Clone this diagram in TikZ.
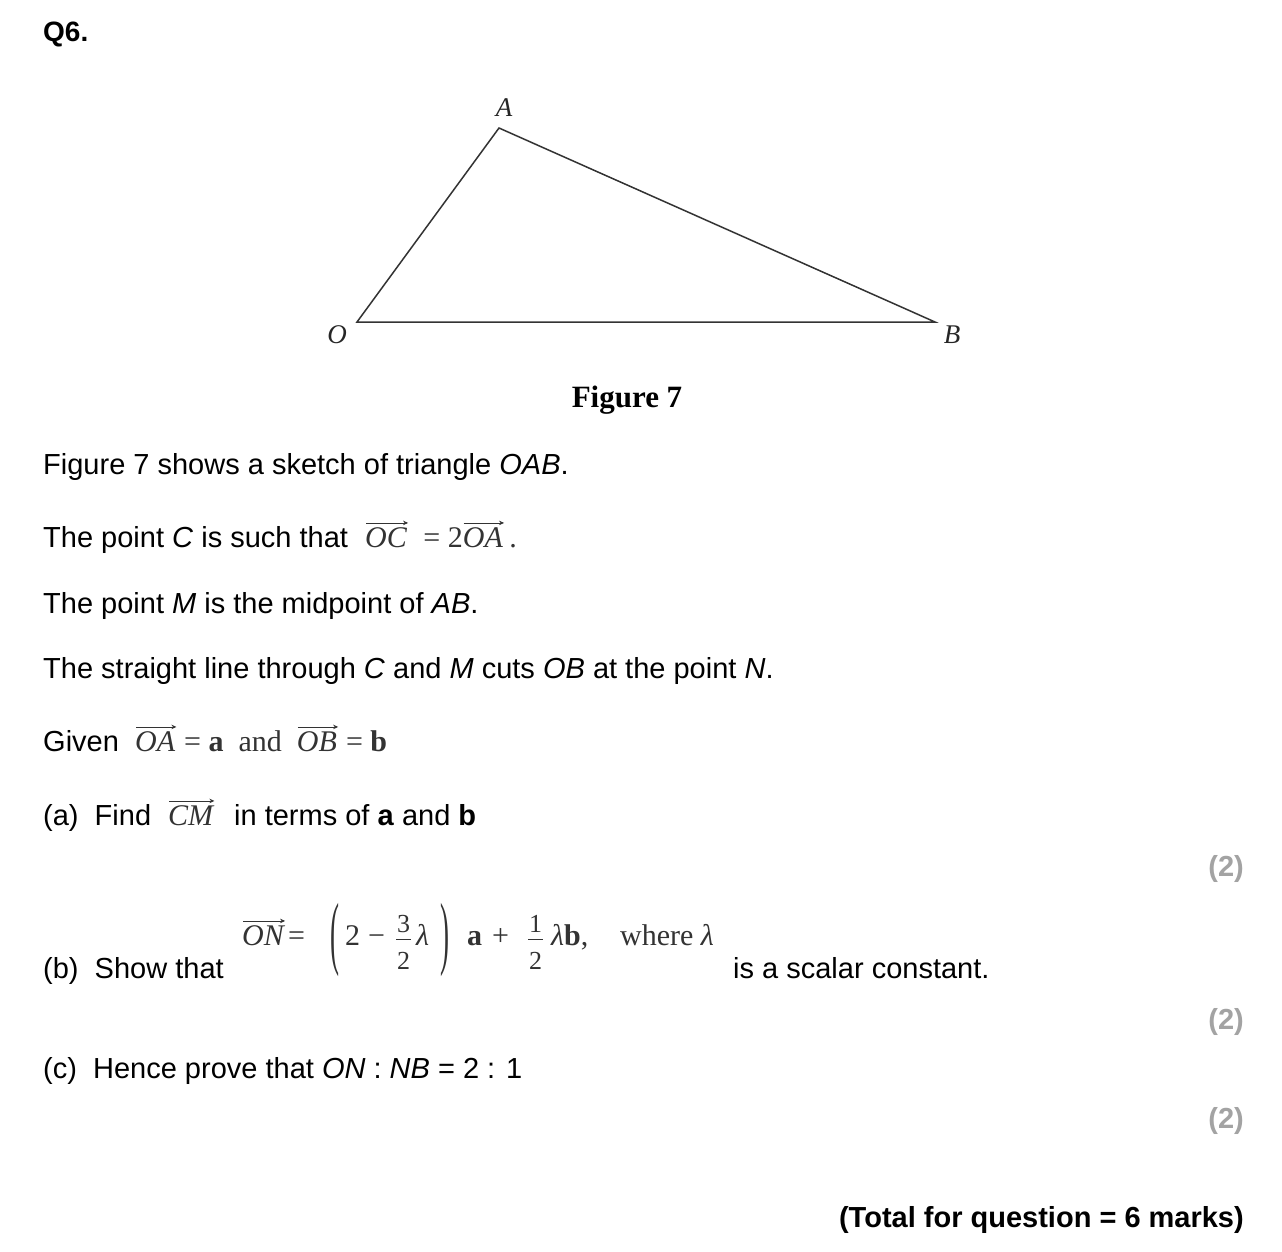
\documentclass[tikz,border=0pt]{standalone}
\usepackage{fontspec}
\setmainfont{Liberation Sans}
\newfontfamily\tms{Liberation Serif}
\usetikzlibrary{arrows.meta}
\newcommand\vx[1]{\tikz[baseline=(vv.base)]{\node[inner sep=0pt,anchor=base west] (vv) at (0,0) {\tms\itshape #1};
  \draw[-{Stealth[length=5pt,width=4.5pt]},line width=0.7pt] ([yshift=4pt,xshift=1pt]vv.north west) -- ([yshift=4pt,xshift=1pt]vv.north east);}}
\definecolor{mathgray}{gray}{0.2}
\definecolor{markgray}{gray}{0.64}
\begin{document}
\begin{tikzpicture}[x=1pt,y=-1pt,
  txt/.style={anchor=base west,inner sep=0pt,font=\fontsize{29}{35}\selectfont},
  fm/.style={anchor=base west,inner sep=0pt,font=\fontsize{30}{36}\selectfont\tms,text=mathgray},
  num/.style={anchor=base,inner sep=0pt,font=\fontsize{26}{30}\selectfont\tms,text=mathgray},
  paren/.style={inner sep=0pt,font=\fontsize{30}{36}\selectfont\tms,text=mathgray},
  markstyle/.style={anchor=base east,inner sep=0pt,font=\fontsize{29}{35}\selectfont\bfseries,text=markgray},
  lbl/.style={inner sep=0pt,font=\fontsize{27}{30}\selectfont\tms\itshape,text=black!85},
  side/.style={line width=1.5pt,draw=black!80,line join=miter},
  bar/.style={line width=1pt,draw=mathgray}]
\useasboundingbox[fill=white] (0,0) rectangle (1282,1252);

% header
\node[txt,font=\fontsize{28}{34}\selectfont\bfseries] (q) at (43,42) {Q6.};

% triangle
\coordinate (O) at (357,322);
\coordinate (A) at (499,128);
\coordinate (B) at (935,322);
\draw[side] (O) -- (A) -- (B) -- cycle;
\node[lbl] (la) at (504,108) {A};
\node[lbl] (lo) at (337,335) {O};
\node[lbl] (lb) at (952,335) {B};
\node[anchor=base,inner sep=0pt,font=\fontsize{31}{36}\selectfont\tms\bfseries] (fig) at (627,407) {Figure 7};

% text
\node[txt] (l1) at (43,474) {Figure 7 shows a sketch of triangle \textit{OAB}.};
\node[txt] (l2) at (43,547) {The point \textit{C} is such that};
\node[fm] (l2m) at (365,547) {\vx{OC}\ \ = 2\vx{OA}\,.};
\node[txt] (l3) at (43,613) {The point \textit{M} is the midpoint of \textit{AB}.};
\node[txt] (l4) at (43,678) {The straight line through \textit{C} and \textit{M} cuts \textit{OB} at the point \textit{N}.};
\node[txt] (l5) at (43,751) {Given};
\node[fm] (l5m) at (135,751) {\vx{OA}\ = \textbf{a}\ \ and\ \ \vx{OB}\ = \textbf{b}};
\node[txt] (l6) at (43,825) {(a)\ \ Find};
\node[fm] (l6m) at (168,825) {\vx{CM}};
\node[txt] (l6b) at (234,825) {in terms of \textbf{a} and \textbf{b}};
\node[markstyle] (m1) at (1244,876) {(2)};

% (b)
\node[txt] (l7) at (43,978) {(b)\ \ Show that};
\node[fm] (on) at (242,945) {\vx{ON}};
\node[fm] (eq) at (288,945) {=};
\node[paren] (lp) at (335,940) {\scalebox{0.9}[2.7]{(}};
\node[fm] (two) at (345,945) {2};
\node[fm] (minus) at (368,945) {−};
\node[num] (n1) at (403.5,932) {3};
\node[num] (d1) at (403.5,969) {2};
\draw[bar] (396,939) -- (411,939);
\node[fm,font=\fontsize{30}{36}\selectfont\tms\itshape] (lam1) at (416,945) {λ};
\node[paren] (rp) at (445,940) {\scalebox{0.9}[2.7]{)}};
\node[fm] (va) at (467,945) {\textbf{a}};
\node[fm] (plus) at (492,945) {+};
\node[num] (n2) at (535.5,932) {1};
\node[num] (d2) at (535.5,969) {2};
\draw[bar] (528,939) -- (543,939);
\node[fm] (lamb) at (551,945) {\textit{λ}\textbf{b},};
\node[fm] (where) at (620,945) {where \textit{λ}};
\node[txt] (l8) at (733,978) {is a scalar constant.};
\node[markstyle] (m2) at (1244,1029) {(2)};

\node[txt] (l9) at (43,1078) {(c)\ \ Hence prove that \textit{ON} : \textit{NB} = 2 : 1};
\node[markstyle] (m3) at (1244,1128) {(2)};

\node[markstyle,text=black] (tot) at (1244,1227) {(Total for question = 6 marks)};
\end{tikzpicture}
\end{document}
